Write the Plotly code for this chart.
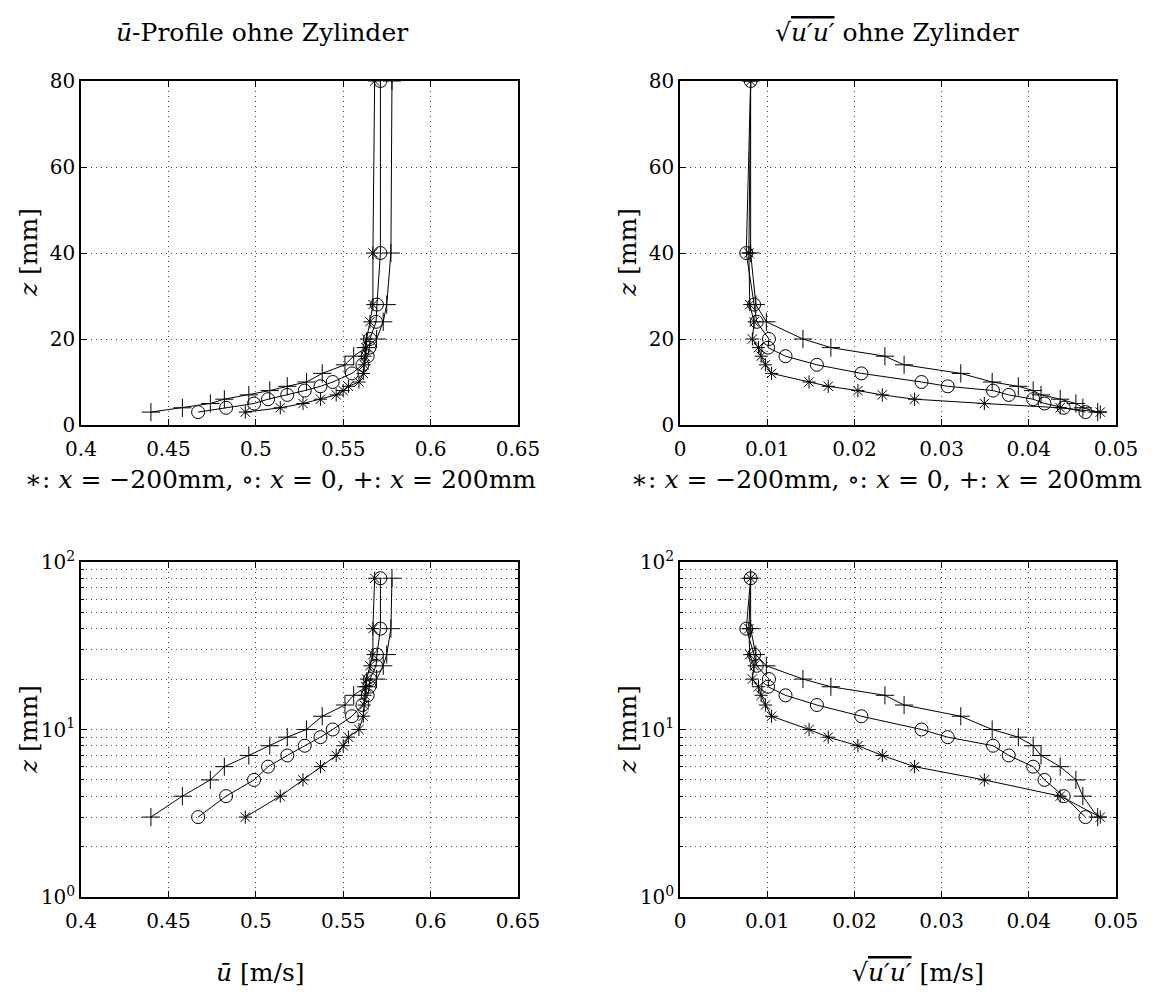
import plotly.graph_objects as go

# Measurement heights above the floor [mm]
z_mm = [3, 4, 5, 6, 7, 8, 9, 10, 12, 14, 16, 18, 20, 24, 28, 40, 80]

# Mean streamwise velocity u_bar [m/s] at three stations
u_mean_m200 = [0.494, 0.514, 0.527, 0.537, 0.546, 0.550, 0.553, 0.559, 0.5615,
               0.562, 0.5625, 0.563, 0.5634, 0.5653, 0.567, 0.567, 0.568]
u_mean_0 = [0.467, 0.483, 0.499, 0.507, 0.518, 0.528, 0.537, 0.544, 0.555,
            0.561, 0.564, 0.565, 0.5653, 0.5688, 0.5693, 0.5713, 0.5713]
u_mean_p200 = [0.440, 0.458, 0.474, 0.482, 0.496, 0.508, 0.518, 0.529, 0.538,
               0.551, 0.556, 0.563, 0.5691, 0.5729, 0.5749, 0.5773, 0.5779]

# RMS of velocity fluctuations sqrt(u'u') [m/s]
u_rms_m200 = [0.0482, 0.0436, 0.0349, 0.0269, 0.0232, 0.0204, 0.0170, 0.0148,
              0.0105, 0.0098, 0.0093, 0.0090, 0.0083, 0.0085, 0.0080, 0.0079, 0.0081]
u_rms_0 = [0.0465, 0.0440, 0.0418, 0.0405, 0.0377, 0.0359, 0.0307, 0.0277,
           0.0208, 0.0157, 0.0121, 0.0101, 0.0102, 0.0088, 0.0085, 0.0076, 0.0081]
u_rms_p200 = [0.0479, 0.0462, 0.0454, 0.0436, 0.0414, 0.0405, 0.0388, 0.0358,
              0.0322, 0.0257, 0.0235, 0.0173, 0.0141, 0.0099, 0.0087, 0.0081, 0.0081]

u_ticks = [0.4, 0.45, 0.5, 0.55, 0.6, 0.65]
u_tick_text = ["0.4", "0.45", "0.5", "0.55", "0.6", "0.65"]
rms_ticks = [0, 0.01, 0.02, 0.03, 0.04, 0.05]
rms_tick_text = ["0", "0.01", "0.02", "0.03", "0.04", "0.05"]
z_lin_ticks = [0, 20, 40, 60, 80]
z_log_ticks = [1, 10, 100]
z_log_text = ["10<sup>0</sup>", "10<sup>1</sup>", "10<sup>2</sup>"]

FONT = "DejaVu Serif"
W, H = 1157, 1008

series = [
    ("asterisk-open", 11, u_mean_m200, u_rms_m200),
    ("circle-open", 13, u_mean_0, u_rms_0),
    ("cross-thin-open", 13, u_mean_p200, u_rms_p200),
]

fig = go.Figure()
panels = [("x", "y", 1), ("x2", "y2", 3), ("x3", "y3", 1), ("x4", "y4", 3)]
for xa, ya, col in panels:
    for sym, size, um, ur in series:
        xv = um if col == 1 else ur
        fig.add_trace(go.Scatter(
            x=xv, y=z_mm, xaxis=xa, yaxis=ya, mode="lines+markers",
            line=dict(color="black", width=1),
            marker=dict(symbol=sym, size=size, color="black",
                        line=dict(color="black", width=1)),
            showlegend=False, hoverinfo="skip"))

def px_x(a, b):
    return [a / W, b / W]

def px_y(top, bottom):
    return [1 - bottom / H, 1 - top / H]

grid = dict(showgrid=True, gridcolor="#444", gridwidth=1, griddash="1px,4px")
axis_common = dict(showline=True, linecolor="black", linewidth=1.5, mirror="allticks",
                   ticks="inside", ticklen=6, tickcolor="black", zeroline=False,
                   automargin=False,
                   tickfont=dict(family=FONT, size=20, color="black"), **grid)
x_extra = dict(ticklabelstandoff=5)
minor_log = dict(dtick="D1", showgrid=True, gridcolor="#444", griddash="1px,4px",
                 ticks="inside", ticklen=3, tickcolor="black")

dl = px_x(81, 518)
dr = px_x(680, 1116)
dt = px_y(81, 425)
db = px_y(562, 897)

fig.update_layout(
    width=W, height=H, margin=dict(l=0, r=0, t=0, b=0),
    paper_bgcolor="white", plot_bgcolor="white",
    font=dict(family=FONT, color="black"),
    xaxis=dict(domain=dl, anchor="y", range=[0.4, 0.65], tickvals=u_ticks,
               ticktext=u_tick_text, **x_extra, **axis_common),
    yaxis=dict(domain=dt, anchor="x", range=[0, 80], tickvals=z_lin_ticks, **axis_common),
    xaxis2=dict(domain=dr, anchor="y2", range=[0, 0.05], tickvals=rms_ticks,
                ticktext=rms_tick_text, **x_extra, **axis_common),
    yaxis2=dict(domain=dt, anchor="x2", range=[0, 80], tickvals=z_lin_ticks, **axis_common),
    xaxis3=dict(domain=dl, anchor="y3", range=[0.4, 0.65], tickvals=u_ticks,
                ticktext=u_tick_text, **x_extra, **axis_common),
    yaxis3=dict(domain=db, anchor="x3", type="log", range=[0, 2], tickvals=z_log_ticks,
                ticktext=z_log_text, minor=minor_log, **axis_common),
    xaxis4=dict(domain=dr, anchor="y4", range=[0, 0.05], tickvals=rms_ticks,
                ticktext=rms_tick_text, **x_extra, **axis_common),
    yaxis4=dict(domain=db, anchor="x4", type="log", range=[0, 2], tickvals=z_log_ticks,
                ticktext=z_log_text, minor=minor_log, **axis_common),
)

RMS = ("√<span style='text-decoration:overline;text-decoration-style:double'>"
       "<i>u′u′</i></span>")
LEG = "∗: <i>x</i> = −200mm, ∘: <i>x</i> = 0, +: <i>x</i> = 200mm"

def note(text, xc, yc, size=25, angle=0):
    fig.add_annotation(text=text, x=xc / W, y=1 - yc / H, xref="paper", yref="paper",
                       showarrow=False, textangle=angle, xanchor="center", yanchor="middle",
                       font=dict(family=FONT, size=size, color="black"))

note("<i>ū</i>-Profile ohne Zylinder", 262, 32)
note(RMS + " ohne Zylinder", 897, 32)
note(LEG, 280, 479)
note(LEG, 886, 479)
note("<i>ū</i> [m/s]", 260, 972)
note(RMS + " [m/s]", 918, 972)
for xc in (28, 627):
    note("<i>z</i> [mm]", xc, 253, angle=-90)
    note("<i>z</i> [mm]", xc, 730, angle=-90)

fig.write_html("out.html")
